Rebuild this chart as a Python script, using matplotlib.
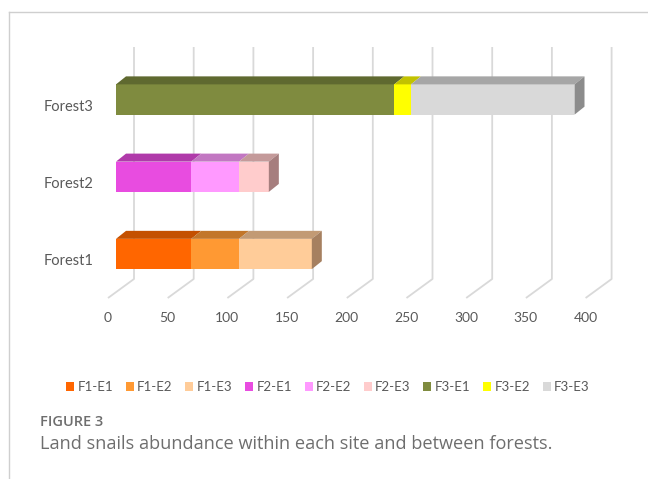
import numpy as np
import matplotlib.pyplot as plt
from matplotlib.patches import Polygon, Patch
from matplotlib.lines import Line2D

# data
forests = ['Forest1', 'Forest2', 'Forest3']
sites = ['E1', 'E2', 'E3']
f1 = [63, 40, 61]
f2 = [63, 40, 25]
f3 = [233, 14, 137]
values = [f1, f2, f3]
ticks = [0, 50, 100, 150, 200, 250, 300, 350, 400]

# colours: front face, top face
front = [['#FF6600', '#FF9933', '#FFCC99'],
         ['#E84CE0', '#FF99FF', '#FFCCCC'],
         ['#7F8B3F', '#FFFF00', '#D9D9D9']]
top = [['#C45000', '#C2762A', '#C29A74'],
       ['#B03AAA', '#C277C2', '#C49A9A'],
       ['#5F6930', '#C2C200', '#A6A6A6']]
side = ['#A68060', '#A67E7E', '#8C8C8C']

txt = '#595959'
plt.rcParams['font.family'] = ['Lato', 'DejaVu Sans']

fig = plt.figure(figsize=(6.48, 4.79), dpi=100)
W, H = 648, 479
ax = fig.add_axes([116/W, 1-292/H, 477.6/W, 245/H])
ax.set_xlim(0, 400)
y0, ytop = -0.492, 2.68
ax.set_ylim(y0, ytop)
ax.axis('off')

ppx = 477.6/400
ppy = 245/(ytop-y0)
def off(dx, dy):
    return dx/ppx, dy/ppy

# gridlines (floor + back wall)
fx, fy = off(-8, -6)
bx, by = off(18, 13)
for v in ticks:
    ax.plot([v+fx, v+bx, v+bx], [y0+fy, y0+by, ytop], color='#D9D9D9',
            lw=1.3, zorder=1, clip_on=False, solid_capstyle='butt')
    ax.text(v+fx, y0-26/ppy, str(v), ha='center', va='center',
            fontsize=10, color=txt)

# bars
bh = 30.3/ppy
ddx, ddy = off(10, 8)
for i, vals in enumerate(values):
    left = 0
    yb, yt = i-bh/2, i+bh/2
    for j, w in enumerate(vals):
        ax.barh(i, w, left=left, height=bh, color=front[i][j], zorder=3)
        ax.add_patch(Polygon([(left, yt), (left+w, yt), (left+w+ddx, yt+ddy),
                              (left+ddx, yt+ddy)], closed=True,
                             facecolor=top[i][j], edgecolor='none', zorder=3))
        left += w
    ax.add_patch(Polygon([(left, yb), (left, yt), (left+ddx, yt+ddy),
                          (left+ddx, yb+ddy)], closed=True,
                         facecolor=side[i], edgecolor='none', zorder=3))
    ax.text(-19, i-7/ppy, forests[i], ha='right', va='center', fontsize=10.5,
            color=txt)

# legend
handles = []
for i in range(3):
    for j in range(3):
        handles.append(Patch(facecolor=front[i][j], edgecolor='none',
                             label='F%d-%s' % (i+1, sites[j])))
leg = fig.legend(handles=handles, loc='center', bbox_to_anchor=(0.506, 1-387/H),
                 ncol=9, frameon=False, fontsize=9.5, handlelength=0.6,
                 handleheight=0.6, handletextpad=0.25, columnspacing=0.97)
for t in leg.get_texts():
    t.set_color(txt)

# page frame lines
fig.add_artist(Line2D([9/W, 1], [1-11.5/H, 1-11.5/H], color='#CFCFCF', lw=1))
fig.add_artist(Line2D([9/W, 9/W], [0, 1-11.5/H], color='#CFCFCF', lw=1))

# caption
fig.text(40/W, 1-422/H, 'FIGURE 3', family='Open Sans', fontsize=10.5,
         fontweight='semibold', color='#6E6E6E', va='center')
fig.text(40/W, 1-444/H, 'Land snails abundance within each site and between forests.',
         family='Open Sans', fontsize=13.1, color='#6E6E6E', va='center')

fig.savefig('out.png', dpi=100)
